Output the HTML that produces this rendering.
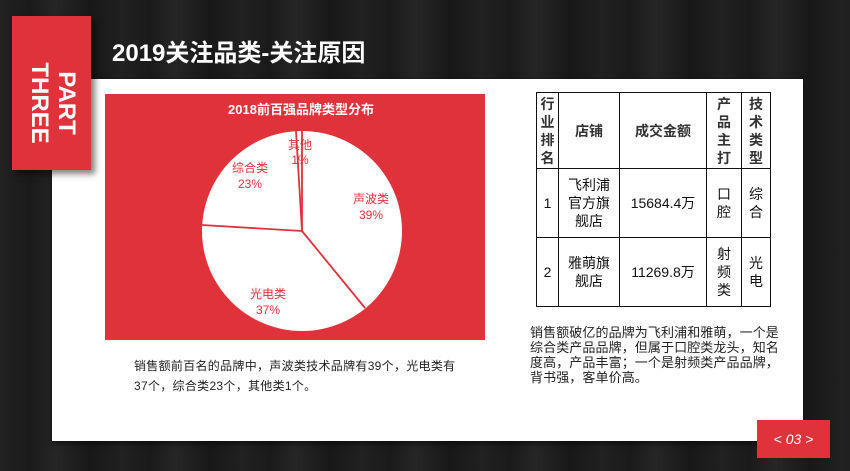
<!DOCTYPE html>
<html><head><meta charset="utf-8"><style>
body{margin:0;width:850px;height:471px;overflow:hidden;background:#1c1c1c;font-family:"Liberation Sans","Noto Sans CJK SC",sans-serif;position:relative}
.bg{position:absolute;inset:0;background:repeating-linear-gradient(90deg,#222 0,#1a1a1a 30px,#262626 55px,#181818 90px,#202020 120px)}
.card{position:absolute;left:52px;top:79px;width:751px;height:362px;background:#fff;box-shadow:0 2px 6px rgba(0,0,0,.6)}
.rib{position:absolute;left:12px;top:16px;width:79px;height:154px;background:#e0323a;box-shadow:4px 4px 6px rgba(0,0,0,.5)}
.rib div{position:absolute;left:-36px;top:60px;width:154px;transform:rotate(90deg);color:#fff;font-weight:bold;font-size:24px;line-height:27px;text-align:center}
h1{position:absolute;left:112px;top:33px;margin:0;color:#fff;font-size:24px;font-weight:bold}
.chart{position:absolute;left:105px;top:94px;width:380px;height:246px;background:#e0323a}
table{position:absolute;left:536px;top:92px;border-collapse:collapse;font-size:14px;color:#111}
td{border:1.5px solid #111;text-align:center;padding:0;line-height:18px}
tr.h td{font-weight:bold;color:#333}
.p{position:absolute;font-size:12px;color:#222;white-space:nowrap}
.pg{position:absolute;left:757px;top:420px;width:73px;height:38px;background:#e0323a;color:#fff;font-style:italic;font-size:14px;line-height:38px;text-align:center}
</style></head><body>
<div class="bg"></div>
<div class="card"></div>
<div class="rib"><div>PART<br>THREE</div></div>
<h1>2019关注品类-关注原因</h1>
<div class="chart">
<svg width="380" height="246">
<text x="196" y="20" fill="#fff" font-size="13" font-weight="bold" text-anchor="middle" font-family="Liberation Sans,Noto Sans CJK SC,sans-serif">2018前百强品牌类型分布</text>
<circle cx="197" cy="137" r="100" fill="#fff"/>
<g stroke="#e0323a" stroke-width="1.8">
<line x1="197" y1="137" x2="197" y2="37"/>
<line x1="197" y1="137" x2="260" y2="214"/>
<line x1="197" y1="137" x2="97" y2="131"/>
<line x1="197" y1="137" x2="191" y2="37"/>
</g>
<g fill="#e0323a" font-size="12" text-anchor="middle" font-family="Liberation Sans,Noto Sans CJK SC,sans-serif">
<text x="195" y="55">其他</text><text x="195" y="70">1%</text>
<text x="145" y="78">综合类</text><text x="145" y="94">23%</text>
<text x="266" y="109">声波类</text><text x="266" y="125">39%</text>
<text x="163" y="204">光电类</text><text x="163" y="220">37%</text>
</g></svg></div>
<table>
<tr class="h" style="height:76px"><td style="width:21px">行<br>业<br>排<br>名</td><td style="width:60px">店铺</td><td style="width:86px">成交金额</td><td style="width:34px">产<br>品<br>主<br>打</td><td style="width:28px">技<br>术<br>类<br>型</td></tr>
<tr style="height:69px"><td>1</td><td>飞利浦<br>官方旗<br>舰店</td><td>15684.4万</td><td>口<br>腔</td><td>综<br>合</td></tr>
<tr style="height:69px"><td>2</td><td>雅萌旗<br>舰店</td><td>11269.8万</td><td>射<br>频<br>类</td><td>光<br>电</td></tr>
</table>
<div class="p" style="left:134px;top:356px;line-height:20px;letter-spacing:0.3px">销售额前百名的品牌中，声波类技术品牌有39个，光电类有<br>37个，综合类23个，其他类1个。</div>
<div class="p" style="left:530px;top:325px;line-height:15px;font-size:13px;letter-spacing:0.1px">销售额破亿的品牌为飞利浦和雅萌，一个是<br>综合类产品品牌，但属于口腔类龙头，知名<br>度高，产品丰富；一个是射频类产品品牌，<br>背书强，客单价高。</div>
<div class="pg">&lt; 03 &gt;</div>
</body></html>
